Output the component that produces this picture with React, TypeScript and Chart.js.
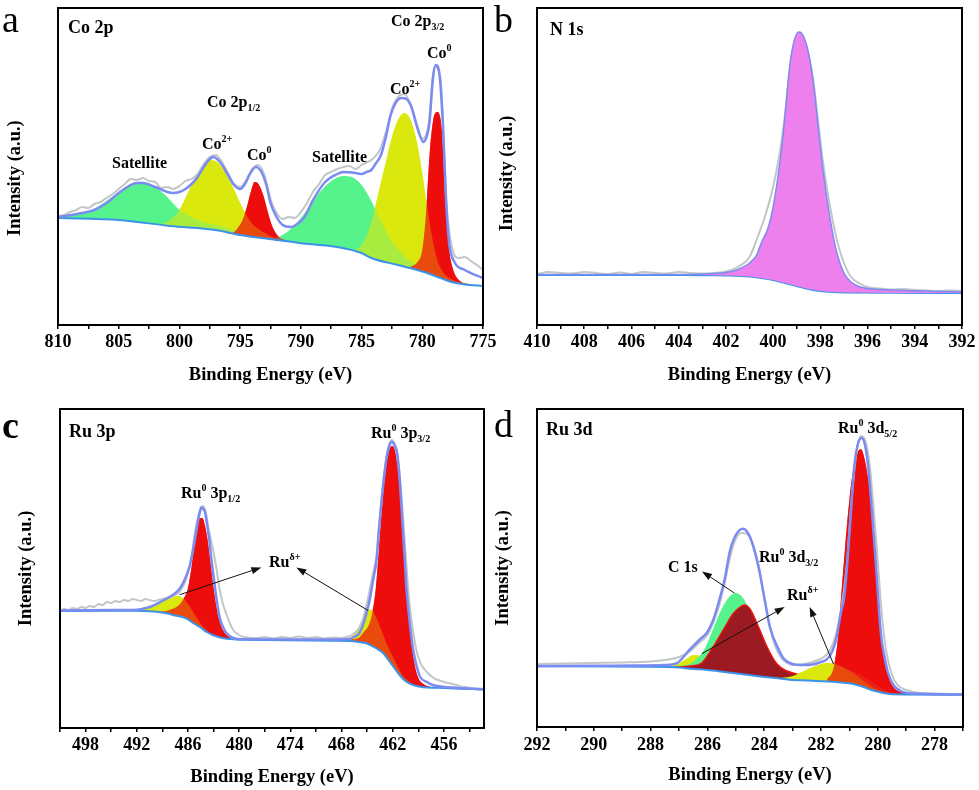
import React, { useEffect, useRef } from 'react';
import { Chart, registerables } from 'chart.js';

Chart.register(...registerables);

type Pt = [number, number];

// ---------------- Panel a : Co 2p ----------------
const A_BACKGROUND: Pt[] = [[810,107],[805,105],[800.75,99],[797,95],[795,90],[792,85],[789.8,81.5],[787,78],[785,72],[784.2,67],[782,60],[780,53.5],[778.5,47],[777.6,43],[776.5,40.5],[775,39]];
const A_ENVELOPE: Pt[] = [[810,108],[808,112],[807,115],[806,122],[805,132],[804,140],[803.5,142],[803,142],[802,138],[801,133],[800.5,132],[800,133],[799.5,136],[799,141],[798.5,148],[798,158],[797.5,166],[797.2,168],[796.6,162],[796,150],[795.5,140],[795,136],[794.6,141],[794.2,151],[793.7,158],[793.2,152],[792.8,138],[792.5,122],[792,108],[791.5,100],[790.8,98],[790.2,102],[789.7,108],[789,125],[788,143],[787,151],[786.5,153],[785.5,152],[785,151],[784.6,153],[784.2,155],[783.8,162],[783.4,170],[783,188],[782.6,210],[782.2,222],[781.7,227],[781.3,226],[780.9,218],[780.4,197],[779.9,183],[779.6,190],[779.4,203],[779.15,243],[778.9,260],[778.6,252],[778.3,200],[778.05,127],[777.8,83],[777.35,63],[776.5,55],[775,47]];
const A_RAW: Pt[] = [[810,109],[809.5,110],[809,113],[808.5,115],[808,118],[807.5,117],[807,121],[806.5,123],[806,127],[805.5,131],[805,136],[804.5,141],[804,146],[803.5,145],[803,147],[802.5,144],[802,143],[801.5,137],[801,138],[800.5,136],[800,139],[799.5,144],[799,146],[798.5,151],[798,161],[797.5,168],[797,170],[796.5,163],[796,152],[795.5,141],[795,138],[794.5,145],[794,156],[793.5,160],[793,150],[792.5,126],[792,112],[791.5,106],[791,108],[790.5,107],[790,113],[789.5,122],[789,133],[788.5,141],[788,150],[787.5,153],[787,156],[786.5,158],[786,159],[785.5,156],[785,160],[784.5,163],[784,167],[783.5,175],[783,193],[782.5,216],[782,228],[781.5,231],[781,222],[780.5,203],[780,186],[779.5,199],[779,258],[778.5,246],[778,120],[777.5,75],[777,67],[776.5,68],[776,64],[775.5,60],[775,55]];
const A_SAT_1: Pt[] = [[810,108],[808.5,111],[807,116.5],[806,124],[805,133],[804.2,140],[803.5,143],[802.8,142],[802,138],[801,128],[800,115],[799,108],[798,103],[797,100],[796,97],[795,93]];
const A_CO2_1: Pt[] = [[801.5,101],[801,103],[800.5,108],[800,115],[799.5,127],[799,140],[798.5,152],[798,161],[797.4,165],[796.8,162],[796.2,152],[795.6,138],[795,122],[794.5,110],[794,101],[793.5,96],[793,92],[792,86],[791,83.5]];
const A_CO0_1: Pt[] = [[796,91],[795.5,93],[795.2,97],[794.8,105],[794.4,120],[794.1,134],[793.8,143],[793.5,141],[793.1,130],[792.7,112],[792.3,97],[791.8,88],[791.3,85],[790.5,82.5]];
const A_SAT_2: Pt[] = [[792.5,86],[791.5,90],[790.5,100],[789.5,115],[788.5,132],[787.5,144],[786.5,149],[785.8,148],[785,140],[784.2,124],[783.5,106],[782.8,90],[782,76],[781,64],[780,56],[779,50]];
const A_CO2_2: Pt[] = [[785.5,75],[785,80],[784.5,92],[784,112],[783.5,138],[783,163],[782.5,188],[782,205],[781.5,212],[781,206],[780.5,186],[780,152],[779.6,118],[779.2,88],[778.8,66],[778.3,53],[777.5,45],[776.5,41.5],[776,41]];
const A_CO0_2: Pt[] = [[781,58],[780.4,63],[780,75],[779.7,110],[779.4,170],[779.1,205],[778.75,213],[778.4,196],[778.05,123],[777.8,77],[777.5,57],[776.9,44],[776,40.5]];

// ---------------- Panel b : N 1s ----------------
const B_BACKGROUND: Pt[] = [[410,50],[404,50],[402,49.5],[401,48.5],[400.5,47],[400,45],[399.5,42],[399,39],[398.5,36],[398,34],[397.5,33],[397,32.5],[392,32]];
const B_ENVELOPE: Pt[] = [[410,50.5],[404,50.5],[403,51],[402,52.5],[401.5,55.5],[401,62],[400.7,70],[400.5,82],[400.2,98],[400,118],[399.7,165],[399.5,208],[399.3,258],[399.1,285],[398.9,293],[398.7,288],[398.5,272],[398.3,243],[398.1,200],[397.9,157],[397.6,108],[397.3,72],[397,52],[396.7,43],[396.3,38],[396,36.5],[395,35],[394,34.3],[393,33.5],[392,33]];
const B_RAW: Pt[] = [[410,51],[409.5,53],[409,52],[408.5,51.5],[408,53],[407.5,52],[407,51],[406.5,52.5],[406,51],[405.5,53],[405,52],[404.5,51.5],[404,53],[403.5,52],[403,51.5],[402.5,52],[402,53.5],[401.5,58],[401,68],[400.7,85],[400.3,112],[400,138],[399.7,175],[399.5,210],[399.3,255],[399.1,282],[398.9,290],[398.7,285],[398.5,270],[398.3,245],[398.1,205],[397.9,165],[397.6,120],[397.3,85],[397,62],[396.7,48],[396.3,41],[396,38],[395.5,36.5],[395,35.5],[394.5,36],[394,35],[393.5,34.5],[393,34],[392.5,34.5],[392,34]];

// ---------------- Panel c : Ru 3p ----------------
const C_BACKGROUND: Pt[] = [[501,117],[496,117.3],[492.4,117.3],[490,116.5],[488.5,114.7],[487.5,112.5],[486.2,109.7],[485.4,105],[484.6,101],[483.8,96],[483.1,93],[482,90],[480.7,88.7],[476.8,88],[469,87.3],[467,87],[466,86],[465.1,84.7],[464,80],[463.1,74.7],[462.5,68],[461.9,61],[461.2,53],[460.4,46.3],[459.6,43],[458.8,41.3],[456,40],[451.3,38.7]];
const C_ENVELOPE: Pt[] = [[501,117.5],[495,118],[492.4,118],[490.5,121],[489.7,124],[488.8,128],[487.8,133],[487,139],[486.4,148],[485.8,162],[485.4,178],[485,198],[484.8,208],[484.6,216],[484.4,220.7],[484.2,219],[484,216],[483.75,203],[483.5,188],[483.2,165],[482.9,145],[482.6,126],[482.3,111],[481.9,101],[481.5,95],[480.7,90],[479.9,88.7],[470,88.5],[467.4,88.7],[466.5,91],[465.9,95],[465.3,108],[464.7,128],[464.3,148],[463.9,168],[463.6,200],[463.3,228],[463,252],[462.7,271],[462.4,282],[462.1,286.3],[461.8,283],[461.5,275],[461.2,250],[460.9,211],[460.6,170],[460.4,141],[460,105],[459.6,78],[459.2,62],[458.8,51.3],[458,46],[457.3,43],[455,40.5],[451.3,38.7]];
const C_RAW: Pt[] = [[501,117],[500.5,119],[500,118],[499.5,120],[499,119],[498.5,121],[498,120],[497.5,122],[497,121],[496.5,124],[496,123],[495.5,126],[495,125],[494.5,127],[494,126],[493.5,128],[493,127],[492.5,129],[492,128],[491.5,127],[491,129],[490.5,128],[490,127],[489.5,128],[489,129],[488.5,130],[488,131],[487.5,133],[487,136],[486.5,143],[486,155],[485.6,170],[485.2,195],[484.8,212],[484.5,220],[484.2,222],[483.9,215],[483.6,200],[483.3,188],[483,176],[482.6,156],[482.3,139],[481.9,124],[481.5,114],[481.1,105],[480.7,98],[480.2,94],[479.5,91],[479,90.5],[478,90],[477,91],[476,89.5],[475,91],[474,90],[473,91.5],[472,90],[471,91],[470,89.5],[469,90.5],[468,90],[467.4,91],[466.8,93],[466.2,97],[465.7,104],[465.2,118],[464.7,138],[464.3,155],[463.9,172],[463.6,200],[463.3,230],[463,254],[462.7,273],[462.4,284],[462.1,288],[461.8,285],[461.5,277],[461.2,256],[460.9,224],[460.6,188],[460.3,152],[460,122],[459.6,96],[459.2,77],[458.8,66],[458.4,60],[458,56],[457.5,52],[457,49],[456.5,47.5],[456,46],[455.5,45],[455,44],[454.5,43],[454,41.5],[453.4,41],[453,40],[452.5,39.5],[452,38.5],[451.3,38]];
const C_RU0_3P12: Pt[] = [[490,116.5],[489,116.5],[488,118.5],[487.2,122],[486.6,128],[486,140],[485.6,160],[485.2,186],[484.9,203],[484.6,210],[484.3,210],[484,202],[483.7,188],[483.4,168],[483,140],[482.6,118],[482.2,104],[481.7,95],[481,90.5],[480.2,89]];
const C_RUD_12: Pt[] = [[492.5,117.3],[491.5,118],[490.5,121],[489.5,125],[488.5,129],[487.8,131.5],[487.2,132],[486.6,130],[486,124],[485.4,116],[484.8,108],[484.2,101],[483.5,95],[482.5,91],[481.5,89]];
const C_RU0_3P32: Pt[] = [[467,88.5],[466,90],[465.4,96],[464.8,103],[464.4,115],[464,138],[463.6,180],[463.2,225],[462.8,260],[462.4,278],[462.1,282],[461.8,279],[461.4,258],[461,218],[460.6,170],[460.2,122],[459.8,85],[459.4,62],[459,50],[458.4,44],[457.5,41],[456.5,40]];
const C_RUD_32: Pt[] = [[468,88],[467.2,89.5],[466.6,93],[466,101],[465.5,110],[465,117],[464.6,118.5],[464.2,115],[463.8,108],[463.3,97],[462.8,86],[462.2,75],[461.5,63],[460.8,52],[460,46]];

// ---------------- Panel d : Ru 3d ----------------
const D_BACKGROUND: Pt[] = [[292,60.7],[288,60.3],[287,59.5],[286.6,58.3],[286,57],[285.4,55],[284.8,53],[284.2,50.7],[283.6,49],[283.1,47.3],[282.5,46.5],[281.9,45.7],[281.3,44.5],[280.9,43.3],[280.5,40],[280.2,36.7],[279.8,34],[279.5,32.7],[277,32.3]];
const D_ENVELOPE: Pt[] = [[292,61],[290,61.3],[288.5,61.5],[287.5,62],[287.1,63.5],[286.6,78],[286.25,88],[286,95],[285.8,106.7],[285.6,125],[285.4,146.7],[285.2,176.7],[285,192],[284.75,198.3],[284.5,190],[284.2,160],[284,130],[283.8,100],[283.5,78],[283.3,68],[283,63],[282.6,62],[282.1,64],[281.65,73],[281.45,90],[281.3,115],[281.18,130],[281,193],[280.83,260],[280.7,283],[280.57,289],[280.45,282],[280.33,258],[280.24,228],[280.06,160],[279.89,93],[279.75,68],[279.65,55],[279.45,42],[279.2,36],[278.8,33.5],[277,32.5]];
const D_RAW: Pt[] = [[292,63],[291,63.5],[290,64],[289,64.5],[288,65.5],[287.5,67],[287,70],[286.6,76],[286.3,84],[286,92],[285.8,104],[285.6,120],[285.4,143],[285.2,170],[285,188],[284.8,194],[284.6,193],[284.4,183],[284.2,162],[284,130],[283.8,100],[283.6,80],[283.4,69],[283.2,64],[283,62],[282.6,63],[282.2,66],[281.9,70],[281.7,76],[281.5,90],[281.3,115],[281.1,160],[280.9,235],[280.75,275],[280.6,291],[280.45,287],[280.3,265],[280.15,220],[280,165],[279.85,110],[279.7,75],[279.5,52],[279.3,42],[279,37],[278.5,34],[277,33]];
const D_RU0_3D52: Pt[] = [[281.8,47],[281.55,60],[281.4,90],[281.3,127],[281.15,180],[281,227],[280.85,260],[280.7,275],[280.6,278],[280.5,272],[280.35,250],[280.24,227],[280.1,180],[280,127],[279.85,85],[279.65,53],[279.45,40],[279.2,35],[278.8,33]];
const D_RUD_52: Pt[] = [[283.4,49],[283,51],[282.6,56],[282.2,61],[281.8,64],[281.4,62],[281,56],[280.6,48],[280.2,40],[279.8,34.5]];
const D_SHOULDER: Pt[] = [[282.8,47],[282.2,50],[281.7,55],[281.3,58],[280.9,56],[280.5,50],[280.1,43],[279.7,36],[279.3,33]];
const D_RU0_3D32: Pt[] = [[287.2,59.8],[286.6,61],[286.2,64],[285.8,80],[285.4,99],[285.1,113],[284.85,120],[284.7,122],[284.5,118],[284.2,100],[283.9,80],[283.55,63],[283.2,56],[282.7,52],[282.2,49],[281.6,46]];
const D_C1S: Pt[] = [[287.5,60],[287,61],[286.5,65],[286.1,78],[285.8,98],[285.5,118],[285.2,131],[285,134],[284.8,131],[284.6,122],[284.3,104],[284,85],[283.7,68],[283.4,56],[283,49],[282.5,46.5]];
const D_RUD_32: Pt[] = [[287.9,60.3],[287.2,61.5],[286.8,67],[286.5,72],[286.2,71],[285.9,66],[285.5,60],[285,55]];

// ---------------- styling ----------------
const SERIF = '"Liberation Serif", "Times New Roman", Times, serif';
const C_RAWLINE = '#c2c6c6';
const C_ENV = '#7a8bf1';
const C_BG = '#3b93ea';
const GREEN: [number, number, number] = [86, 242, 140];
const YELLOW: [number, number, number] = [218, 232, 14];
const RED: [number, number, number] = [238, 14, 14];
const DARKRED: [number, number, number] = [156, 26, 34];
const ORANGE: [number, number, number] = [232, 86, 30];
const PINK: [number, number, number] = [238, 128, 238];

type Seg = { t: string; k?: 'sup' | 'sub' };
type TextMark = { x: number; y: number; segs: Seg[]; size: number; weight?: string };
type Arrow = { from: Pt; to: Pt };
type Layer = { points: Pt[]; line?: string; width?: number; fill?: [number, number, number]; blend?: number };

interface PanelSpec {
  canvas: { left: number; top: number; width: number; height: number };
  area: { left: number; top: number; right: number; bottom: number };
  xMin: number; xMax: number; step: number; labelStep: number;
  tickPad: number; xTitlePad: number; yTitlePad: number; yTitleTrail: number;
  layers: Layer[];
  texts: TextMark[];
  arrows: Arrow[];
}

const envLayer = (p: Pt[], fill?: [number, number, number], w = 2.5): Layer => ({ points: p, line: C_ENV, width: w, fill });
const bgLayer = (p: Pt[]): Layer => ({ points: p, line: C_BG, width: 2 });
const rawLayer = (p: Pt[]): Layer => ({ points: p, line: C_RAWLINE, width: 2 });
const comp = (p: Pt[], fill: [number, number, number], blend?: number, line?: string, width?: number): Layer => ({ points: p, fill, blend, line, width });

const t = (x: number, y: number, segs: Seg[], size = 16, weight = 'bold'): TextMark => ({ x, y, segs, size, weight });

const PANELS: PanelSpec[] = [
  {
    canvas: { left: 0, top: 0, width: 500, height: 395 },
    area: { left: 58, top: 8, right: 483, bottom: 325 },
    xMin: 775, xMax: 810, step: 2.5, labelStep: 5,
    tickPad: 3, xTitlePad: 9, yTitlePad: 4, yTitleTrail: 5,
    layers: [envLayer(A_ENVELOPE), bgLayer(A_BACKGROUND), rawLayer(A_RAW), comp(A_CO0_2, RED, 0.72), comp(A_CO0_1, RED, 0.72), comp(A_CO2_2, YELLOW, 0.62), comp(A_CO2_1, YELLOW, 0.62), comp(A_SAT_2, GREEN), comp(A_SAT_1, GREEN)],
    texts: [
      t(2, 32, [{ t: 'a' }], 38, 'normal'),
      t(68, 33, [{ t: 'Co 2p' }], 18),
      t(391, 26, [{ t: 'Co 2p' }, { t: '3/2', k: 'sub' }]),
      t(427, 58, [{ t: 'Co' }, { t: '0', k: 'sup' }]),
      t(390, 94, [{ t: 'Co' }, { t: '2+', k: 'sup' }]),
      t(207, 107, [{ t: 'Co 2p' }, { t: '1/2', k: 'sub' }]),
      t(202, 149, [{ t: 'Co' }, { t: '2+', k: 'sup' }]),
      t(247, 160, [{ t: 'Co' }, { t: '0', k: 'sup' }]),
      t(312, 162, [{ t: 'Satellite' }]),
      t(112, 168, [{ t: 'Satellite' }]),
    ],
    arrows: [],
  },
  {
    canvas: { left: 490, top: 0, width: 489, height: 395 },
    area: { left: 537, top: 8, right: 962, bottom: 325 },
    xMin: 392, xMax: 410, step: 1, labelStep: 2,
    tickPad: 3, xTitlePad: 9, yTitlePad: 6, yTitleTrail: 3,
    layers: [envLayer(B_ENVELOPE, PINK, 1.5), bgLayer(B_BACKGROUND), rawLayer(B_RAW)],
    texts: [
      t(494, 32, [{ t: 'b' }], 38, 'normal'),
      t(550, 35, [{ t: 'N 1s' }], 18),
    ],
    arrows: [],
  },
  {
    canvas: { left: 0, top: 395, width: 500, height: 395 },
    area: { left: 60, top: 409, right: 484, bottom: 728 },
    xMin: 451.3, xMax: 501, step: 3, labelStep: 6,
    tickPad: 2.2, xTitlePad: 2, yTitlePad: 15, yTitleTrail: 0,
    layers: [envLayer(C_ENVELOPE), bgLayer(C_BACKGROUND), rawLayer(C_RAW), comp(C_RU0_3P32, RED, 0.72), comp(C_RU0_3P12, RED, 0.72), comp(C_RUD_32, YELLOW), comp(C_RUD_12, YELLOW)],
    texts: [
      t(2, 438, [{ t: 'c' }], 38, 'bold'),
      t(69, 437, [{ t: 'Ru 3p' }], 18),
      t(181, 498, [{ t: 'Ru' }, { t: '0', k: 'sup' }, { t: ' 3p' }, { t: '1/2', k: 'sub' }]),
      t(371, 438, [{ t: 'Ru' }, { t: '0', k: 'sup' }, { t: ' 3p' }, { t: '3/2', k: 'sub' }]),
      t(269, 567, [{ t: 'Ru' }, { t: 'δ+', k: 'sup' }]),
    ],
    arrows: [
      { from: [486.97, 133.3], to: [477.4, 160.6] },
      { from: [464.9, 117.6], to: [473.3, 160.6] },
    ],
  },
  {
    canvas: { left: 490, top: 395, width: 489, height: 395 },
    area: { left: 537, top: 409, right: 963, bottom: 727 },
    xMin: 277, xMax: 292, step: 1, labelStep: 2,
    tickPad: 3.2, xTitlePad: 4, yTitlePad: 2, yTitleTrail: 0,
    layers: [envLayer(D_ENVELOPE), bgLayer(D_BACKGROUND), rawLayer(D_RAW), comp(D_RU0_3D52, RED, 0.72), comp(D_RUD_52, YELLOW), comp(D_SHOULDER, ORANGE), comp(D_RU0_3D32, DARKRED, undefined, '#ee1111', 1.5), comp(D_C1S, GREEN), comp(D_RUD_32, YELLOW)],
    texts: [
      t(494, 437, [{ t: 'd' }], 38, 'normal'),
      t(546, 435, [{ t: 'Ru 3d' }], 18),
      t(838, 433, [{ t: 'Ru' }, { t: '0', k: 'sup' }, { t: ' 3d' }, { t: '5/2', k: 'sub' }]),
      t(759, 562, [{ t: 'Ru' }, { t: '0', k: 'sup' }, { t: ' 3d' }, { t: '3/2', k: 'sub' }]),
      t(787, 600, [{ t: 'Ru' }, { t: 'δ+', k: 'sup' }]),
      t(668, 572, [{ t: 'C 1s' }]),
    ],
    arrows: [
      { from: [285.05, 134], to: [286.19, 155.5] },
      { from: [286.19, 73.4], to: [283.28, 120] },
      { from: [281.56, 63], to: [282.4, 120] },
    ],
  },
];

const rgba = (c: [number, number, number], a = 1) => `rgba(${c[0]},${c[1]},${c[2]},${a})`;

function drawRich(ctx: CanvasRenderingContext2D, m: TextMark, ox: number, oy: number) {
  let cx = m.x - ox;
  const w = m.weight ?? 'bold';
  for (const s of m.segs) {
    const fs = s.k ? Math.round(m.size * 0.62) : m.size;
    ctx.font = `${w} ${fs}px ${SERIF}`;
    const dy = s.k === 'sup' ? -m.size * 0.42 : s.k === 'sub' ? m.size * 0.25 : 0;
    ctx.fillText(s.t, cx, m.y - oy + dy);
    cx += ctx.measureText(s.t).width;
  }
}

function Panel({ spec }: { spec: PanelSpec }) {
  const ref = useRef<HTMLCanvasElement>(null);
  useEffect(() => {
    const el = ref.current;
    if (!el) return;
    const { canvas, area } = spec;
    const datasets: any[] = [];
    const underIdx = new Set<number>();
    const mk = (l: Layer, color: string | undefined, lineOn: boolean) => ({
      data: l.points.map(([x, y]) => ({ x, y })),
      borderColor: lineOn && l.line ? l.line : 'rgba(0,0,0,0)',
      borderWidth: lineOn && l.width ? l.width : 0.01,
      backgroundColor: color ?? 'rgba(0,0,0,0)',
      fill: color ? { target: 1 } : false,
      pointRadius: 0,
      pointHoverRadius: 0,
      cubicInterpolationMode: 'monotone' as const,
    });
    for (const l of spec.layers) {
      if (l.fill && l.blend) {
        // translucent pass on top (mixes with lower peaks), opaque pass slipped underneath
        datasets.push(mk(l, rgba(l.fill, l.blend), true));
        underIdx.add(datasets.length);
        datasets.push(mk(l, rgba(l.fill, 1), false));
      } else {
        datasets.push(mk(l, l.fill ? rgba(l.fill, 1) : undefined, true));
      }
    }
    const isLabel = (v: number) => Math.abs(v / spec.labelStep - Math.round(v / spec.labelStep)) < 1e-6;
    const deco = {
      id: 'deco',
      beforeDatasetDraw(chart: any) {
        chart.ctx.globalCompositeOperation = 'source-over';
      },
      afterDatasetDraw(chart: any, args: any) {
        const next = args.index - 1;
        chart.ctx.globalCompositeOperation = underIdx.has(next) ? 'destination-over' : 'source-over';
      },
      afterDatasetsDraw(chart: any) {
        chart.ctx.globalCompositeOperation = 'source-over';
      },
      afterDraw(chart: any) {
        const ctx: CanvasRenderingContext2D = chart.ctx;
        const ca = chart.chartArea;
        const xs = chart.scales.x;
        const ys = chart.scales.y;
        ctx.save();
        ctx.globalCompositeOperation = 'source-over';
        ctx.strokeStyle = '#000';
        ctx.lineWidth = 2;
        ctx.strokeRect(ca.left, ca.top, ca.right - ca.left, ca.bottom - ca.top);
        ctx.fillStyle = '#111';
        ctx.strokeStyle = '#111';
        for (const a of spec.arrows) {
          const x1 = xs.getPixelForValue(a.from[0]);
          const y1 = ys.getPixelForValue(a.from[1]);
          const x2 = xs.getPixelForValue(a.to[0]);
          const y2 = ys.getPixelForValue(a.to[1]);
          const ang = Math.atan2(y2 - y1, x2 - x1);
          const L = 10, W = 3.5;
          const bx = x2 - L * Math.cos(ang), by = y2 - L * Math.sin(ang);
          ctx.lineWidth = 1;
          ctx.beginPath();
          ctx.moveTo(x1, y1);
          ctx.lineTo(bx, by);
          ctx.stroke();
          ctx.beginPath();
          ctx.moveTo(x2, y2);
          ctx.lineTo(bx + W * Math.sin(ang), by - W * Math.cos(ang));
          ctx.lineTo(bx - W * Math.sin(ang), by + W * Math.cos(ang));
          ctx.closePath();
          ctx.fill();
        }
        ctx.fillStyle = '#000';
        ctx.textAlign = 'left';
        ctx.textBaseline = 'alphabetic';
        for (const m of spec.texts) drawRich(ctx, m, canvas.left, canvas.top);
        ctx.restore();
      },
    };
    const chart = new Chart(el, {
      type: 'line',
      data: { datasets },
      options: {
        responsive: false,
        animation: false,
        devicePixelRatio: 1,
        events: [],
        layout: {
          padding: { left: 0, top: area.top - canvas.top, right: canvas.left + canvas.width - area.right, bottom: 0 },
        },
        plugins: { legend: { display: false }, tooltip: { enabled: false } },
        scales: {
          x: {
            type: 'linear',
            reverse: true,
            min: spec.xMin,
            max: spec.xMax,
            afterFit: (s: any) => { s.height = canvas.top + canvas.height - area.bottom; },
            ticks: {
              stepSize: spec.step,
              autoSkip: false,
              maxRotation: 0,
              minRotation: 0,
              includeBounds: false,
              maxTicksLimit: 200,
              padding: spec.tickPad,
              color: '#000',
              font: { family: SERIF, size: 18, weight: 'bold' },
              callback: (v: any) => (isLabel(Number(v)) ? String(Math.round(Number(v))) : ''),
            },
            grid: { drawOnChartArea: false, drawTicks: true, tickLength: 4, color: '#000', lineWidth: 1.5 },
            border: { display: true, color: '#000', width: 2 },
            title: {
              display: true,
              text: 'Binding Energy (eV)',
              color: '#000',
              font: { family: SERIF, size: 18.5, weight: 'bold' },
              padding: { top: 0, bottom: spec.xTitlePad },
            },
          } as any,
          y: {
            type: 'linear',
            min: 0,
            max: area.bottom - area.top,
            afterFit: (s: any) => { s.width = area.left - canvas.left; },
            ticks: { display: false },
            grid: { display: false },
            border: { display: true, color: '#000', width: 2 },
            title: {
              display: true,
              text: 'Intensity (a.u.)' + ' '.repeat(spec.yTitleTrail),
              color: '#000',
              font: { family: SERIF, size: 18.5, weight: 'bold' },
              padding: { top: spec.yTitlePad, bottom: 0 },
            },
          } as any,
        },
      },
      plugins: [deco],
    });
    return () => chart.destroy();
  }, [spec]);
  const c = spec.canvas;
  return (
    <canvas
      ref={ref}
      width={c.width}
      height={c.height}
      style={{ position: 'absolute', left: c.left, top: c.top, width: c.width, height: c.height }}
    />
  );
}

export default function App() {
  return (
    <div style={{ position: 'absolute', left: 0, top: 0, width: 979, height: 790, background: '#fff', overflow: 'hidden' }}>
      {PANELS.map((p, i) => (
        <Panel key={i} spec={p} />
      ))}
    </div>
  );
}
